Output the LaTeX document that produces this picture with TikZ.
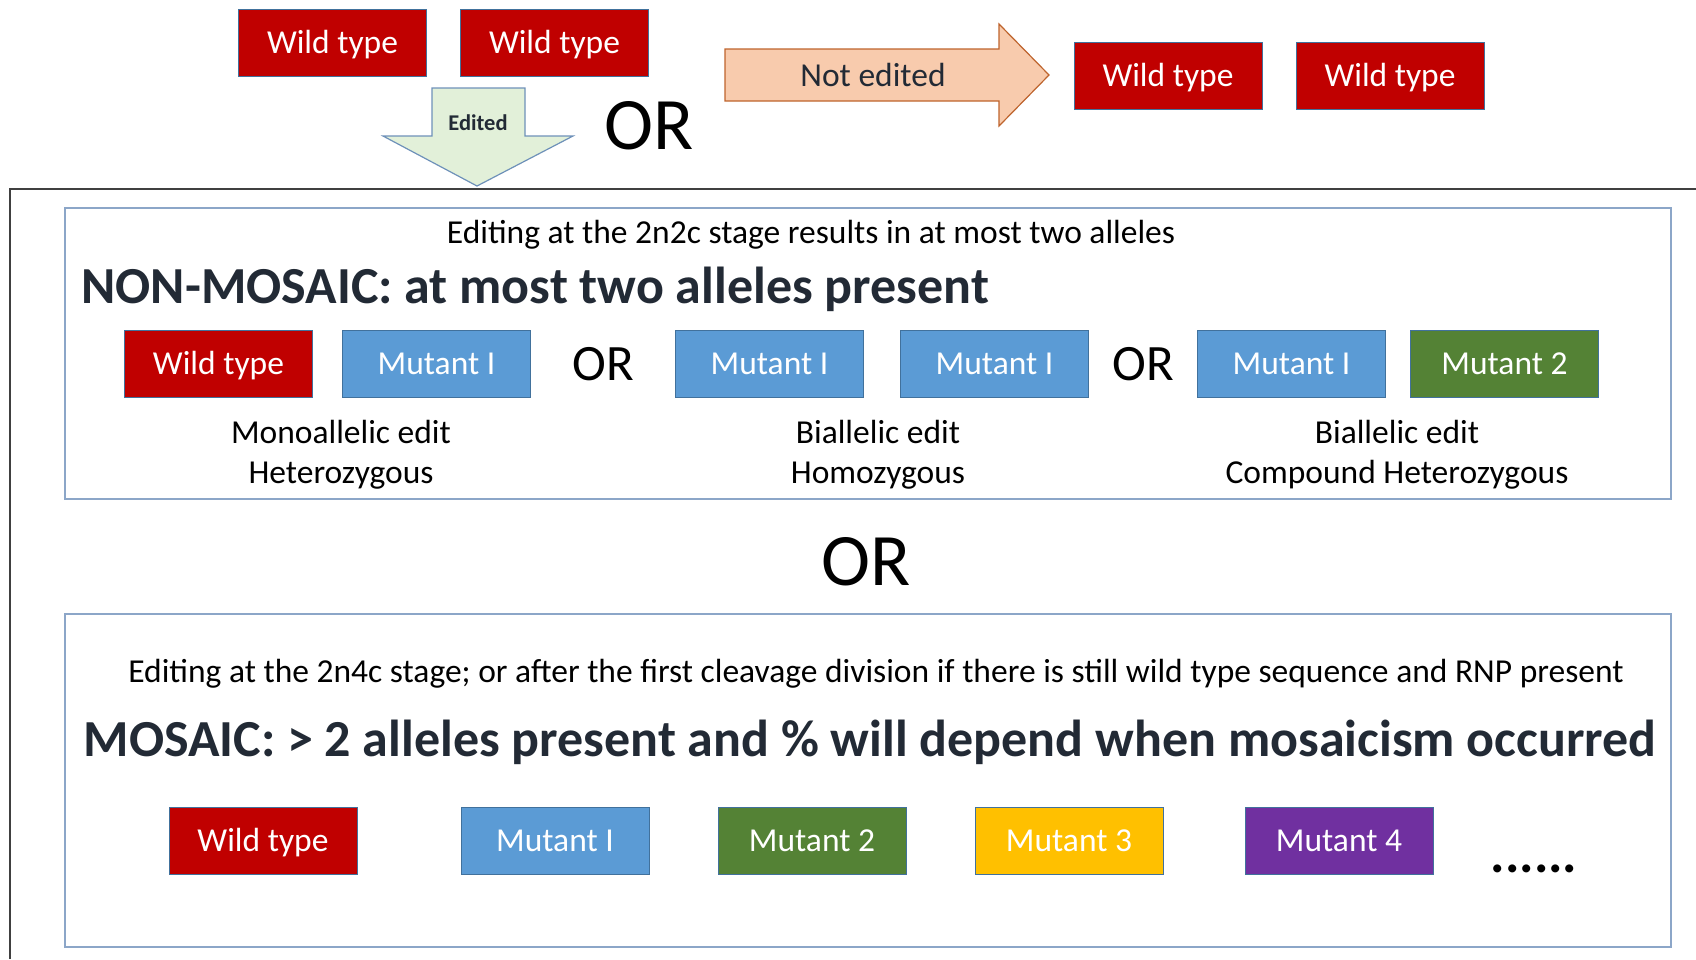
\documentclass[tikz,border=0pt]{standalone}
\usepackage{fontspec}
\setmainfont{Carlito}
\usepackage{tikz}
\usetikzlibrary{positioning,calc}

\definecolor{wtred}{RGB}{192,0,0}
\definecolor{mutblue}{RGB}{91,155,213}
\definecolor{mutgreen}{RGB}{84,130,53}
\definecolor{mutyellow}{RGB}{255,192,0}
\definecolor{mutpurple}{RGB}{112,48,160}
\definecolor{boxedge}{RGB}{65,113,156}
\definecolor{panelblue}{RGB}{140,166,200}
\definecolor{ink}{RGB}{34,42,53}
\definecolor{peach}{RGB}{248,203,173}
\definecolor{rust}{RGB}{190,100,45}
\definecolor{mint}{RGB}{226,240,217}
\definecolor{arrowblue}{RGB}{110,145,185}

\begin{document}
\begin{tikzpicture}[x=1pt,y=-1pt,
  allele/.style={draw=boxedge,line width=1pt,text=white,minimum width=188pt,minimum height=67pt,inner sep=0pt,text height=21pt,text depth=0pt,font=\fontsize{33.5}{40}\selectfont},
  wt/.style={allele,fill=wtred},
  mut/.style={allele,fill=mutblue},
  bigor/.style={font=\fontsize{74}{80}\selectfont},
  rowor/.style={font=\fontsize{51}{60}\selectfont},
  sub/.style={font=\fontsize{33.5}{40}\selectfont},
  head/.style={font=\bfseries\fontsize{52}{60}\selectfont,text=ink},
  lbl/.style={align=center,font=\fontsize{33.5}{40}\selectfont},
  panel/.style={draw=panelblue,line width=1.5pt}]
\useasboundingbox (0,0) rectangle (1696,959);

\node[wt] (twt1) at (332.5,43) {Wild type};
\node[wt,right=33pt of twt1] (twt2) {Wild type};
\draw[draw=arrowblue,fill=mint,line width=1.2pt] (432,88) -- (525,88) -- (525,136) -- (573,136)
  -- (477,186) -- (383,136) -- (432,136) -- cycle;
\node[font=\bfseries\fontsize{22.5}{26}\selectfont,text=ink] (ed) at (478,123) {Edited};
\node[bigor] (or1) at (649,126) {OR};
\draw[draw=rust,fill=peach,line width=1.2pt] (725,49) -- (999,49) -- (999,24) -- (1049,75)
  -- (999,126) -- (999,101) -- (725,101) -- cycle;
\node[font=\fontsize{33.5}{40}\selectfont,text=ink] (ne) at (873,75) {Not edited};
\node[wt] (twt3) at (1168,75.5) {Wild type};
\node[wt,right=33pt of twt3] (twt4) {Wild type};

\draw[line width=1.5pt,draw=black!75] (10,959) -- (10,189) -- (1696,189);

\draw[panel] (65,208) rectangle (1671,499);
\node[sub] (nmsub) at (811,235) {Editing at the 2n2c stage results in at most two alleles};
\node[head,anchor=west] (nmhead) at (78,289) {NON-MOSAIC: at most two alleles present};
\node[wt] (nwt) at (218.5,364) {Wild type};
\node[mut,right=29pt of nwt] (nm1) {Mutant I};
\node[mut,right=144pt of nm1] (nm2) {Mutant I};
\node[mut,right=36pt of nm2] (nm3) {Mutant I};
\node[mut,right=108pt of nm3] (nm4) {Mutant I};
\node[allele,fill=mutgreen,right=24pt of nm4] (nm5) {Mutant 2};
\node[rowor] (or2) at ($(nm1.east)!0.5!(nm2.west)$) {OR};
\node[rowor] (or3) at ($(nm3.east)!0.5!(nm4.west)$) {OR};
\node[lbl] (mono) at (341,455) {Monoallelic edit\\Heterozygous};
\node[lbl] (homo) at (878,455) {Biallelic edit\\Homozygous};
\node[lbl] (comp) at (1397,455) {Biallelic edit\\Compound Heterozygous};

\node[bigor] (or4) at (866,562) {OR};

\draw[panel] (65,614) rectangle (1671,947);
\node[sub] (msub) at (876,674) {Editing at the 2n4c stage; or after the first cleavage division if there is still wild type sequence and RNP present};
\node[head] (mhead) at (870,742) {MOSAIC: > 2 alleles present and \% will depend when mosaicism occurred};
\node[wt] (mwt) at (263,840.5) {Wild type};
\node[mut,right=103pt of mwt] (m1) {Mutant I};
\node[allele,fill=mutgreen,right=68pt of m1] (m2) {Mutant 2};
\node[allele,fill=mutyellow,right=68pt of m2] (m3) {Mutant 3};
\node[allele,fill=mutpurple,right=81pt of m3] (m4) {Mutant 4};
\node[font=\bfseries\fontsize{54}{60}\selectfont,anchor=base] (dots) at (1534,872) {......};
\end{tikzpicture}
\end{document}
